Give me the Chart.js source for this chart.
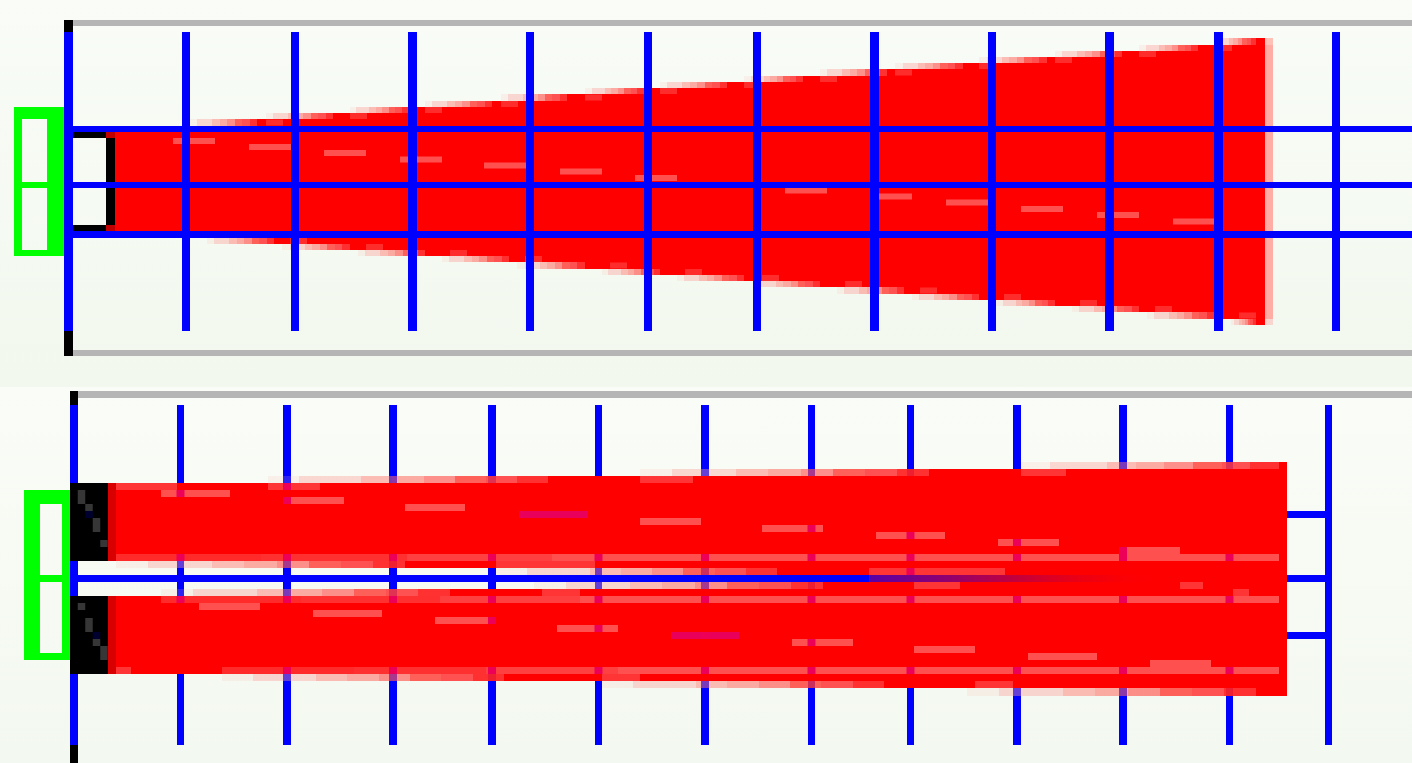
<!DOCTYPE html>
<html>
<head>
<meta charset="utf-8">
<title>Chart</title>
<script src="https://cdn.jsdelivr.net/npm/chart.js@4"></script>
<style>
  html, body { margin: 0; padding: 0; background: #f5f9f2; overflow: hidden; }
  .panel { position: absolute; left: 0; width: 1412px; }
  #topPanel { top: 0; height: 387px; background: linear-gradient(#f9fcf7, #f2f8ee); }
  #bottomPanel { top: 387px; height: 376px; background: linear-gradient(#fafdf7, #f3f8f0); }
  canvas { display: block; }
</style>
</head>
<body>
<div class="panel" id="topPanel"><canvas id="topChart" width="1412" height="387"></canvas></div>
<div class="panel" id="bottomPanel"><canvas id="bottomChart" width="1412" height="376"></canvas></div>
<script>
// Top panel: one widening wedge
const topTicksX = [0, 118, 227, 344.5, 462, 580, 689, 806.5, 924, 1041.5, 1150.5, 1268];
const topTicksY = [56, 0, -49.5];
const topUpperEdge = [59, 66, 72, 78, 84, 91, 97, 103, 109, 116, 122, 128, 134, 140, 147];
const topUpperStart = [122, 198, 282, 357, 433, 517, 592, 676, 752, 827, 911, 987, 1071, 1147];
const topUpperFull = [189, 265, 340, 424, 499, 576, 659, 735, 819, 895, 979, 1054, 1130, 1188];
const topLowerEdge = [-53, -59, -65, -71, -77, -84, -90, -96, -102, -109, -115, -121, -127, -134, -140];
const topLowerStart = [139, 214, 290, 374, 449, 534, 609, 686, 769, 844, 928, 1004, 1079, 1163];
const topLowerFull = [206, 282, 357, 441, 517, 592, 676, 752, 836, 911, 987, 1071, 1146, 1188];
const topStreakFrom = [105, 181, 256, 332, 416, 492, 567, 717, 811, 878, 953, 1029, 1105];
const topStreakTo = [147, 223, 298, 374, 458, 534, 609, 759, 844, 920, 995, 1071, 1147];
const topStreakY = [44, 38, 32, 25.5, 19.5, 13.5, 7, -5.5, -11.5, -17.5, -24, -30, -36.5];

// Bottom panel: two bars that close up towards the right
const bottomTicksX = [0, 106.5, 213, 319, 418, 524.5, 631, 737.5, 836.5, 943, 1049, 1155.5, 1254.5];
const bottomTicksY = [64, 0, -57];
const upperTopEdge = [95.5, 102.5, 109.5, 116.5];
const upperTopStart = [194, 566, 947];
const upperTopFull = [474, 855, 1205];
const upperGapEdge = [17.5, 10.5, 3.5];
const upperGapStart = [42, 422];
const upperGapFull = [331, 703];
const lowerGapEdge = [-17.5, -10.5, -3.5];
const lowerGapStart = [87, 460];
const lowerGapFull = [376, 749];
const lowerEndEdge = [-95.5, -102.5, -109.5, -117.5];
const lowerEndStart = [148, 528, 893];
const lowerEndFull = [430, 810, 1182];
const stripeY = [21, -21, -92];
const stripeFrom = [42, 87, 148];
const streakY = [85, 78, 71, 64, 57, 50, 43, 36, 28, -28, -35, -42, -50, -57, -64, -71, -78, -85];
const streakFrom = [87, 209, 331, 445, 566, 688, 802, 924, 1045, 125, 239, 361, 483, 597, 718, 840, 954, 1076];
const streakTo = [156, 270, 391, 514, 627, 749, 871, 985, 1106, 186, 308, 422, 544, 665, 779, 901, 1023, 1137];
const tailY = [92, 92, 99, 106, 14, 7, -7, -7, -14, -14, -99, -106, -92];
const tailFrom = [42, 194, 566, 947, 422, 795, 840, 1106, 468, 1159, 528, 901, 42];
const tailTo = [103, 246, 619, 992, 521, 931, 886, 1129, 506, 1175, 566, 939, 57];
const speckX = [7.5, 7.5, 15, 15, 22.5, 22.5, 30, 7.5, 15, 15, 22.5, 22.5, 30, 30];
const speckY = [85, 78, 71, 64, 57, 50, 35, -28, -43, -50, -57, -64, -71, -78];

const FADE = ['rgba(250,190,180,.18)', 'rgba(252,160,155,.4)', 'rgba(252,160,155,.4)', 'rgba(255,120,110,.48)',
  'rgba(255,105,95,.55)', 'rgba(255,86,80,.65)', 'rgba(255,58,50,.8)', 'rgba(255,57,58,.88)', 'rgba(255,33,33,.93)'];
const MELT = ['rgba(255,0,0,.35)', 'rgba(255,0,0,.45)', 'rgba(255,0,0,.55)', 'rgba(255,0,0,.65)',
  'rgba(255,0,0,.75)', 'rgba(255,0,0,.85)', 'rgba(255,0,0,.93)', 'rgba(255,0,0,.98)', 'rgba(255,0,0,1)'];
const STRIPE = ['#ff2a2a', '#ff3030', '#ff4040', '#ff5050', '#ff5050', '#ff5050', '#ff5050', '#ff5050'];
const BLUE = '#0000ff', GREEN = '#00ff00', RED = '#ff0000', BLACK = '#000000', GRAY = '#b5b5b5';

// colour blocks running along a row, from value a to value b on the x scale
function ramp(a, b, colors, smooth) {
  return function(context) {
    const scale = context.chart.scales.x;
    const p0 = scale.getPixelForValue(a);
    const p1 = scale.getPixelForValue(b);
    // options also get resolved once before the layout has run
    if (!isFinite(p0) || !isFinite(p1) || p0 === p1) return RED;
    const g = context.chart.ctx.createLinearGradient(p0, 0, p1, 0);
    colors.forEach((c, i) => {
      if (smooth) {
        g.addColorStop(i / (colors.length - 1), c);
      } else {
        g.addColorStop(i / colors.length, c);
        g.addColorStop((i + 1) / colors.length, c);
      }
    });
    return g;
  };
}

function seg(xs, ys, color, width) {
  return {
    data: [{x: xs[0], y: ys[0]}, {x: xs[1], y: ys[1]}],
    borderColor: color,
    borderWidth: width,
    clip: false
  };
}

function hline(x0, x1, y, color, width) { return seg([x0, x1], [y, y], color, width); }
function vline(x, y0, y1, color, width) { return seg([x, x], [y0, y1], color, width); }

// stair outline of one bar edge, from x0 to x1
function stairs(x0, x1, edge, full) {
  const pts = [{x: x0, y: edge[0]}];
  full.forEach((f, i) => {
    pts.push({x: f, y: edge[i]}, {x: f, y: edge[i + 1]});
  });
  pts.push({x: x1, y: edge[edge.length - 1]});
  return pts;
}

function shape(upper, lower) {
  return {
    data: upper.concat(lower.slice().reverse()),
    borderWidth: 0,
    backgroundColor: RED,
    fill: 'shape'
  };
}

function rows(edge, start, full) {
  return start.map((s, i) =>
    hline(s, full[i], (edge[i] + edge[i + 1]) / 2, ramp(s, full[i], FADE), Math.abs(edge[i + 1] - edge[i])));
}

function gridScale(min, max, ticks, widths, z) {
  return {
    type: 'linear',
    min: min,
    max: max,
    afterBuildTicks: scale => { scale.ticks = ticks.map(value => ({value})); },
    ticks: {display: false, autoSkip: false},
    grid: {color: BLUE, lineWidth: widths, drawTicks: false, z: z},
    border: {display: false}
  };
}

function drawPanel(id, padding, scaleX, scaleY, datasets) {
  new Chart(document.getElementById(id), {
    type: 'scatter',
    data: {
      datasets: datasets.map((d, i) => Object.assign({showLine: true, pointRadius: 0, tension: 0, order: -i}, d))
    },
    options: {
      responsive: false,
      animation: false,
      devicePixelRatio: 1,
      events: [],
      layout: {padding: padding},
      plugins: {legend: {display: false}, tooltip: {enabled: false}},
      scales: {x: scaleX, y: scaleY}
    }
  });
}

// Top chart
const topSets = [
  shape(stairs(47, 1197, topUpperEdge, topUpperFull), stairs(47, 1197, topLowerEdge, topLowerFull)),
  ...rows(topUpperEdge, topUpperStart, topUpperFull),
  ...rows(topLowerEdge, topLowerStart, topLowerFull)
];
topUpperStart.forEach((s, i) => {
  if (i > 0) topSets.push(hline(s, s + 17, (topUpperEdge[i] + topUpperEdge[i - 1]) / 2, '#ff2c2c', 6));
});
topLowerStart.forEach((s, i) => {
  if (i > 0) topSets.push(hline(s + 8, s + 25, (topLowerEdge[i] + topLowerEdge[i - 1]) / 2, '#ff2c2c', 6));
});
topStreakY.forEach((y, i) => topSets.push(hline(topStreakFrom[i], topStreakTo[i], y, '#ff5050', 6)));
topSets.push(
  vline(1201, 140, -134, '#ffada5', 8),
  vline(1201, 147, 140, '#ffc0b8', 8),
  vline(1201, -134, -140, '#f8d5ce', 8),
  // black bracket at the start of the wedge
  hline(5, 38, 50, BLACK, 6), hline(38, 47, 50, '#c00000', 6),
  vline(42.5, 47, -40, BLACK, 9),
  hline(5, 38, -43, BLACK, 6), hline(38, 47, -43, '#c00000', 6),
  // frame lines and axis caps
  hline(5, 1344, 162, GRAY, 6), hline(5, 1344, -168, GRAY, 6),
  vline(0.5, 165, 153, BLACK, 9), vline(0.5, -146, -171, BLACK, 9),
  // green key box
  vline(-50, 78, -71, GREEN, 8), vline(-12.5, 78, -71, GREEN, 17),
  hline(-54, -4, 72, GREEN, 12), hline(-54, -4, 0, GREEN, 6), hline(-54, -4, -68, GREEN, 6)
);
drawPanel('topChart', {left: 68, top: 32, right: 0, bottom: 56},
  gridScale(0, 1344, topTicksX, [9, 8, 8, 9, 8, 8, 8, 9, 8, 9, 9, 8], 1),
  gridScale(-146, 153, topTicksY, [6, 6, 7], 1),
  topSets);

// Bottom chart
const rowH = 7;
const crossings = [];
function withCrossings(x0, x1, y) {
  bottomTicksX.forEach(t => {
    if (t + 3 > x0 && t - 3 < x1) crossings.push(hline(t - 4, t + 4, y, '#ec0058', rowH));
  });
}
const bottomSets = [
  shape(stairs(42, 1213, upperTopEdge, upperTopFull), stairs(42, 1213, upperGapEdge, upperGapFull)),
  shape(stairs(42, 1213, lowerGapEdge, lowerGapFull), stairs(42, 1213, lowerEndEdge, lowerEndFull)),
  ...rows(upperTopEdge, upperTopStart, upperTopFull),
  ...rows(upperGapEdge, upperGapStart, upperGapFull),
  ...rows(lowerGapEdge, lowerGapStart, lowerGapFull),
  ...rows(lowerEndEdge, lowerEndStart, lowerEndFull),
  hline(795, 1213, 0, ramp(795, 1080, MELT, true), rowH)
];
stripeY.forEach((y, i) => {
  bottomSets.push(hline(stripeFrom[i], 1205, y, ramp(stripeFrom[i], 1205, STRIPE), rowH));
  withCrossings(stripeFrom[i], 1205, y);
});
tailY.forEach((y, i) => {
  bottomSets.push(hline(tailFrom[i], tailTo[i], y, '#ff3434', rowH));
  withCrossings(tailFrom[i], tailTo[i], y);
});
streakY.forEach((y, i) => {
  bottomSets.push(hline(streakFrom[i], streakTo[i], y, bottomTicksY.includes(y) ? '#e8005a' : '#ff5050', rowH));
  withCrossings(streakFrom[i], streakTo[i], y);
});
bottomSets.push(...crossings);
bottomSets.push(
  // black blocks at the base of the bars
  vline(15, 95.5, 17.5, BLACK, 38), vline(15, -17.5, -95.5, BLACK, 38),
  vline(38, 95.5, 17.5, '#d80000', 8), vline(38, -17.5, -95.5, '#d80000', 8)
);
speckY.forEach((y, i) => {
  bottomSets.push(hline(speckX[i] - 3.75, speckX[i] + 3.75, y, bottomTicksY.includes(y) ? '#000030' : '#363636', rowH));
});
bottomSets.push(
  hline(4, 1338, 184, GRAY, 7),
  vline(0, 187.5, 173.5, BLACK, 8), vline(0, -166.5, -184.5, BLACK, 8),
  // green key box
  vline(-42, 88.5, -81.5, GREEN, 16), vline(-8, 88.5, -81.5, GREEN, 8),
  hline(-50, -4, 81.5, GREEN, 14), hline(-50, -4, 0, GREEN, 7), hline(-50, -4, -78, GREEN, 7)
);
drawPanel('bottomChart', {left: 74, top: 18, right: 83.5, bottom: 18},
  gridScale(0, 1254.5, bottomTicksX, [8, 7, 8, 8, 8, 7, 8, 7, 7, 8, 8, 7, 7], -1),
  gridScale(-166.5, 173.5, bottomTicksY, [7, 7, 7], -1),
  bottomSets);
</script>
</body>
</html>
